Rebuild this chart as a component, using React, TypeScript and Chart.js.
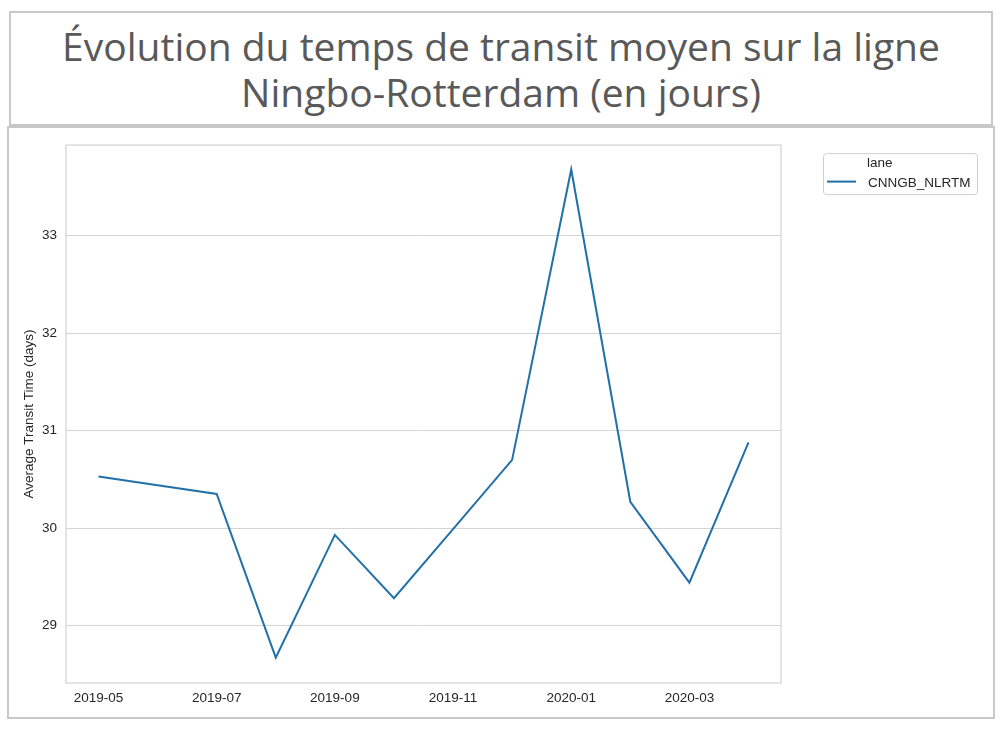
import React, { useEffect, useRef } from "react";
import { Chart, registerables } from "chart.js";

Chart.register(...registerables);

const TITLE_LINES = ["Évolution du temps de transit moyen sur la ligne", "Ningbo-Rotterdam (en jours)"];
const MONTHS = ["2019-05", "2019-06", "2019-07", "2019-08", "2019-09", "2019-10", "2019-11", "2019-12", "2020-01", "2020-02", "2020-03", "2020-04"];
const TRANSIT_DAYS = [30.53, 30.44, 30.35, 28.67, 29.93, 29.28, 29.99, 30.70, 33.68, 30.27, 29.44, 30.88];
const SERIES_LABEL = "CNNGB_NLRTM";
const LEGEND_TITLE = "lane";
const X_TICK_INDEX = [0, 2, 4, 6, 8, 10];
const Y_TICKS = [29, 30, 31, 32, 33];
const Y_TITLE = "Average Transit Time (days)";

const FONT = "'Liberation Sans', Arial, sans-serif";
const TEXT = "#262626";
const GRID = "#d4d4d4";
const LINE = "#2170a8";

const framePlugin = {
  id: "frame",
  afterDatasetsDraw(chart: any) {
    const { ctx, chartArea } = chart;
    ctx.save();
    ctx.strokeStyle = GRID;
    ctx.lineWidth = 1.25;
    ctx.strokeRect(chartArea.left, chartArea.top, chartArea.right - chartArea.left, chartArea.bottom - chartArea.top);
    ctx.restore();
  },
};

const legendPlugin = {
  id: "boxLegend",
  afterDraw(chart: any) {
    const { ctx, chartArea } = chart;
    const ds = chart.data.datasets[0];
    const x0 = chartArea.right + 42;
    const y0 = chartArea.top + 8;
    const w = 154;
    const h = 41;
    ctx.save();
    ctx.fillStyle = "#ffffff";
    ctx.strokeStyle = "#d0d0d0";
    ctx.lineWidth = 1;
    ctx.beginPath();
    (ctx as any).roundRect(x0 + 0.5, y0 + 0.5, w, h, 3);
    ctx.fill();
    ctx.stroke();
    ctx.font = `13.5px ${FONT}`;
    ctx.fillStyle = TEXT;
    ctx.textBaseline = "middle";
    ctx.textAlign = "left";
    ctx.fillText(LEGEND_TITLE, x0 + 44, y0 + 10);
    ctx.strokeStyle = ds.borderColor;
    ctx.lineWidth = 2;
    ctx.beginPath();
    ctx.moveTo(x0 + 4, y0 + 28.5);
    ctx.lineTo(x0 + 33, y0 + 28.5);
    ctx.stroke();
    ctx.fillText(ds.label, x0 + 45, y0 + 30);
    ctx.restore();
  },
};

function ChartBox() {
  const ref = useRef<HTMLCanvasElement>(null);
  useEffect(() => {
    if (!ref.current) return;
    const chart = new Chart(ref.current, {
      type: "line",
      data: {
        datasets: [
          {
            label: SERIES_LABEL,
            data: TRANSIT_DAYS.map((v, i) => ({ x: i, y: v })),
            borderColor: LINE,
            backgroundColor: LINE,
            borderWidth: 2,
            pointRadius: 0,
            tension: 0,
          },
        ],
      },
      options: {
        animation: false,
        responsive: false,
        maintainAspectRatio: false,
        layout: { padding: { left: 0, top: 15, right: 211, bottom: 0 } },
        plugins: { legend: { display: false }, tooltip: { enabled: false } },
        scales: {
          x: {
            type: "linear",
            min: -0.55,
            max: 11.55,
            afterBuildTicks: (s: any) => {
              s.ticks = X_TICK_INDEX.map((v) => ({ value: v }));
            },
            afterFit: (s: any) => {
              s.height = 34;
            },
            grid: { display: false, drawTicks: false },
            border: { display: false },
            ticks: {
              autoSkip: false,
              maxRotation: 0,
              padding: 7,
              color: TEXT,
              font: { family: FONT, size: 13.5 },
              callback: (v: any) => MONTHS[Math.round(Number(v))] ?? "",
            },
          },
          y: {
            type: "linear",
            min: 28.41,
            max: 33.93,
            afterBuildTicks: (s: any) => {
              s.ticks = Y_TICKS.map((v) => ({ value: v }));
            },
            afterFit: (s: any) => {
              s.width = 57;
            },
            grid: { color: GRID, lineWidth: 1, drawTicks: false },
            border: { display: false },
            ticks: {
              padding: 9,
              color: TEXT,
              font: { family: FONT, size: 13.5 },
              callback: (v: any) => String(v),
            },
            title: {
              display: true,
              text: Y_TITLE,
              color: TEXT,
              font: { family: FONT, size: 13.5 },
              padding: { top: 12, bottom: 0 },
            },
          },
        },
      },
      plugins: [framePlugin, legendPlugin],
    } as any);
    return () => chart.destroy();
  }, []);
  return <canvas ref={ref} width={983} height={589} style={{ display: "block", width: 983, height: 589 }} />;
}

export default function App() {
  return (
    <div style={{ position: "relative", width: 1002, height: 730, background: "#fff" }}>
      <style>{`body{margin:0;background:#fff}`}</style>
      <div
        style={{
          position: "absolute",
          left: 9,
          top: 11,
          width: 980,
          height: 111,
          border: "2px solid #c8c8c8",
          display: "flex",
          flexDirection: "column",
          alignItems: "center",
          justifyContent: "center",
          fontFamily: "'Open Sans', sans-serif",
          fontSize: 39,
          lineHeight: "46px",
          color: "#595959",
          textAlign: "center",
        }}
      >
        {TITLE_LINES.map((t) => (
          <div key={t}>{t}</div>
        ))}
      </div>
      <div
        style={{
          position: "absolute",
          left: 7,
          top: 126,
          width: 984,
          height: 589,
          border: "2px solid #c8c8c8",
        }}
      >
        <ChartBox />
      </div>
    </div>
  );
}
